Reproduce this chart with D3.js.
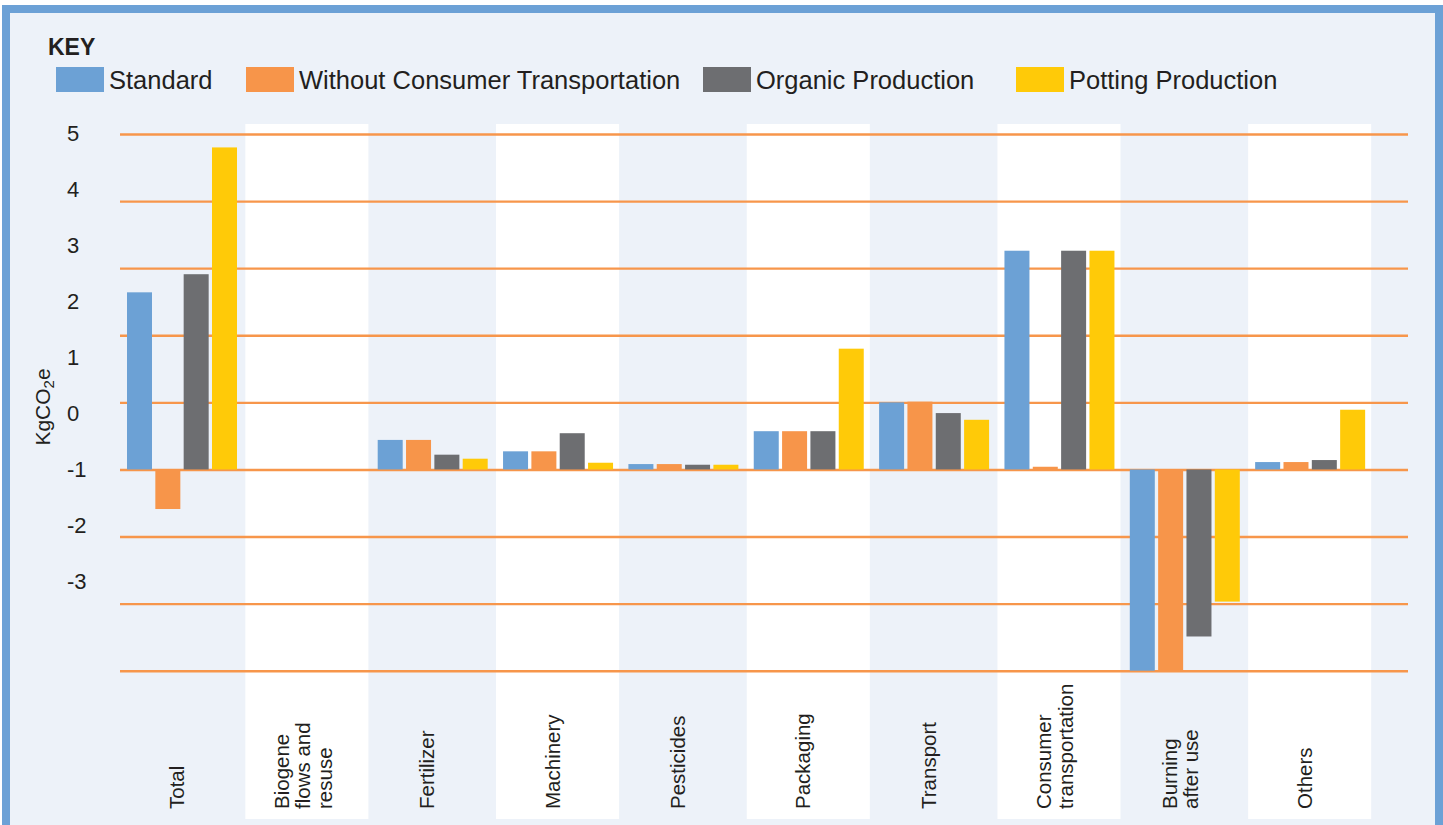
<!DOCTYPE html>
<html><head><meta charset="utf-8">
<script src="https://cdn.jsdelivr.net/npm/d3@7"></script>
<style>html,body{margin:0;padding:0;background:#fff;overflow:hidden}</style>
</head><body>
<svg id="chart" width="1443" height="825"></svg>
<script>
// ---------- data ----------
const categories = ["Total","Biogene flows and resuse","Fertilizer","Machinery","Pesticides","Packaging","Transport","Consumer transportation","Burning after use","Others"];
const categoryLines = [["Total"],["Biogene","flows and","resuse"],["Fertilizer"],["Machinery"],["Pesticides"],["Packaging"],["Transport"],["Consumer","transportation"],["Burning","after use"],["Others"]];
const seriesNames = ["Standard","Without Consumer Transportation","Organic Production","Potting Production"];
const standard        = [2.64, 0, 0.44, 0.27, 0.08, 0.57, 1.00, 3.26, -3.00, 0.11];
const withoutConsumer = [-0.59, 0, 0.44, 0.27, 0.08, 0.57, 1.01, 0.04, -3.00, 0.11];
const organic         = [2.91, 0, 0.22, 0.54, 0.07, 0.57, 0.84, 3.26, -2.49, 0.14];
const potting         = [4.80, 0, 0.16, 0.10, 0.07, 1.80, 0.74, 3.26, -1.97, 0.89];
const gridTicks = [-3,-2,-1,0,1,2,3,4,5];
const tickLabels = ["5","4","3","2","1","0","-1","-2","-3"];
const yTitle = "KgCO2e";
const legendTitle = "KEY";

// ---------- styles ----------
const colors = ["#6ca1d5","#f7954a","#6d6e71","#ffca08"];
const textColor = "#231f20";
const font = "'Liberation Sans', Arial, sans-serif";
const seriesValues = [standard, withoutConsumer, organic, potting];

const svg = d3.select("#chart");

// frame
svg.append("rect").attr("x",2).attr("y",5).attr("width",1441).attr("height",840).attr("fill","#6ca1d6");
svg.append("rect").attr("x",10).attr("y",13).attr("width",1425).attr("height",830).attr("fill","#edf2f9");

// scales
const x = d3.scaleBand().domain(categories).range([120, 1373.5]);
const x1 = d3.scaleBand().domain(seriesNames).range([7, 117]).paddingInner(0.1176);
const y = d3.scaleLinear().domain([-3, 5]).range([670.7, 134]);
const yLabel = d3.scalePoint().domain(tickLabels).range([133, 581]);

// alternating white bands
svg.append("g").selectAll("rect")
  .data(categories.filter((c,i)=>i%2===1))
  .join("rect")
  .attr("x", d => x(d))
  .attr("y", 124)
  .attr("width", x.bandwidth() - 2.3)
  .attr("height", 819 - 124)
  .attr("fill", "#ffffff");

// gridlines
const grid = svg.append("g").attr("transform","translate(120,0)")
  .call(d3.axisLeft(y).tickValues(gridTicks).tickSize(-(1408-120)).tickFormat(""));
grid.select(".domain").remove();
grid.selectAll(".tick line").attr("stroke","#f7964b").attr("stroke-width",2.4);

// bars
const groups = svg.append("g").selectAll("g")
  .data(categories)
  .join("g")
  .attr("transform", d => `translate(${x(d)},0)`);
groups.selectAll("rect")
  .data((c, ci) => seriesNames.map((s, si) => ({s, si, v: seriesValues[si][ci]})))
  .join("rect")
  .attr("x", d => x1(d.s))
  .attr("width", x1.bandwidth())
  .attr("y", d => y(Math.max(0, d.v)))
  .attr("height", d => Math.abs(y(d.v) - y(0)))
  .attr("fill", d => colors[d.si]);

// y tick labels (as printed in original)
const yAx = svg.append("g").attr("transform","translate(67,0)")
  .call(d3.axisLeft(yLabel).tickSize(0));
yAx.select(".domain").remove();
yAx.selectAll("text")
  .attr("x", 0).attr("dy","0.35em")
  .attr("text-anchor","start")
  .attr("font-family", font).attr("font-size", 22).attr("fill", textColor);

// y title
const yt = svg.append("text")
  .attr("transform","translate(50,407) rotate(-90)")
  .attr("text-anchor","middle")
  .attr("font-family", font).attr("font-size", 21).attr("fill", textColor);
yt.append("tspan").text(yTitle.slice(0,4));
yt.append("tspan").attr("font-size", 15).attr("dy", 4).text(yTitle.slice(4,5));
yt.append("tspan").attr("dy", -4).text(yTitle.slice(5));

// x axis labels
const xAx = svg.append("g").attr("transform","translate(0,809)")
  .call(d3.axisBottom(x).tickSize(0));
xAx.select(".domain").remove();
xAx.selectAll(".tick text").each(function(d, i) {
  const t = d3.select(this);
  const lines = categoryLines[categories.indexOf(d)];
  const n = lines.length;
  t.text(null).attr("x", null).attr("y", null).attr("dy", null)
   .attr("transform","rotate(-90)")
   .attr("text-anchor","start")
   .attr("font-family", font).attr("font-size", 20.5).attr("fill", textColor);
  lines.forEach((ln, li) => {
    const off = n === 1 ? 1 : 2 + (li - (n-1)/2) * 21.5;
    t.append("tspan").attr("x", 0).attr("y", off).text(ln);
  });
});

// legend
svg.append("text").attr("x",48).attr("y",55).text(legendTitle)
  .attr("font-family", font).attr("font-weight","bold").attr("font-size",23).attr("fill", textColor);
const legendX = [56, 246, 703, 1016];
const lg = svg.append("g").selectAll("g").data(seriesNames).join("g")
  .attr("transform", (d,i) => `translate(${legendX[i]},67)`);
lg.append("rect").attr("width",48).attr("height",25).attr("fill",(d,i)=>colors[i]);
lg.append("text").attr("x",53).attr("y",21.5).text(d=>d)
  .attr("font-family", font).attr("font-size",25.5).attr("fill", textColor);
</script>
</body></html>
